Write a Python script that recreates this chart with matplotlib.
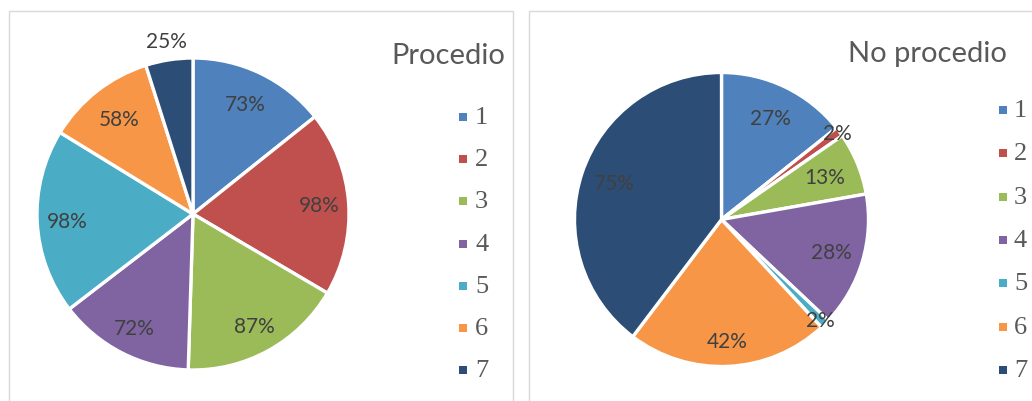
import numpy as np
import matplotlib
matplotlib.use("Agg")
from matplotlib import pyplot as plt
from matplotlib.patches import Rectangle

# Datos
categorias = ['1', '2', '3', '4', '5', '6', '7']
procedio = [73, 98, 87, 72, 98, 58, 25]
no_procedio = [27, 2, 13, 28, 2, 42, 75]
titulos = ['Procedio', 'No procedio']

colores = ['#4F81BD', '#C0504D', '#9BBB59', '#8064A2',
           '#4BACC6', '#F79646', '#2C4D75']

W, H = 1032, 402


def px_axes(fig, cx, cy, r):
    """Ejes cuadrados centrados en (cx, cy) px con radio r px."""
    return fig.add_axes([(cx - r) / W, 1 - (cy + r) / H, 2 * r / W, 2 * r / H])


def dibujar_pie(ax, valores, dist_etiquetas):
    wedges, _ = ax.pie(valores, colors=colores, startangle=90, counterclock=False,
                       wedgeprops=dict(edgecolor='white', linewidth=2.4))
    ax.set_xlim(-1, 1)
    ax.set_ylim(-1, 1)
    ax.set_aspect('equal')
    for w, v, d in zip(wedges, valores, dist_etiquetas):
        ang = np.deg2rad((w.theta1 + w.theta2) / 2)
        ax.text(d * np.cos(ang), d * np.sin(ang), f'{v}%', ha='center', va='center',
                fontsize=15, color='#404040', family='Lato')


def dibujar_leyenda(fig, x_cuadro, x_texto, y0, paso):
    for i, (cat, col) in enumerate(zip(categorias, colores)):
        y = y0 + i * paso
        fig.patches.append(Rectangle((x_cuadro / W, 1 - (y + 4) / H), 8 / W, 8 / H,
                                     transform=fig.transFigure, facecolor=col,
                                     edgecolor='none'))
        fig.text(x_texto / W, 1 - y / H, cat, ha='left', va='center',
                 fontsize=19, color='#595959', family='Liberation Serif')


fig = plt.figure(figsize=(W / 100, H / 100), dpi=100)

# Marcos de los dos graficos
for x0, x1 in [(9, 513), (529, 1040)]:
    fig.patches.append(Rectangle((x0 / W, -0.1), (x1 - x0) / W, 1 - 12 / H + 0.1,
                                 transform=fig.transFigure, facecolor='none',
                                 edgecolor='#D9D9D9', linewidth=1, zorder=-1))

# Grafico izquierdo
ax1 = px_axes(fig, 193, 215, 156)
dibujar_pie(ax1, procedio, [0.78, 0.81, 0.82, 0.82, 0.81, 0.77, 1.12])
fig.text(391 / W, 1 - 56 / H, titulos[0], ha='left', va='center',
         fontsize=21, color='#595959', family='Lato')
dibujar_leyenda(fig, 459, 475, 118, 42.2)

# Grafico derecho
ax2 = px_axes(fig, 721.5, 220.5, 147)
dibujar_pie(ax2, no_procedio, [0.77, 0.98, 0.76, 0.78, 0.96, 0.83, 0.77])
fig.text(848 / W, 1 - 54 / H, titulos[1], ha='left', va='center',
         fontsize=21, color='#595959', family='Lato')
dibujar_leyenda(fig, 999, 1014, 111, 43.3)

fig.savefig('out.png', dpi=100)
